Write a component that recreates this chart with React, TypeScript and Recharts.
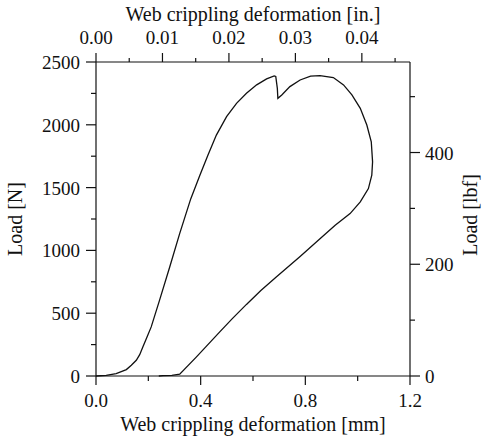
import { LineChart, Line, XAxis, YAxis } from "recharts";

// web crippling test: load vs deformation, loading + unloading path in order
const deformationMm = [
  0, 0.039, 0.077, 0.116, 0.135, 0.154, 0.167, 0.179, 0.195, 0.211, 0.243, 0.282,
  0.32, 0.362, 0.397, 0.428, 0.46, 0.499, 0.537, 0.575, 0.614, 0.652, 0.681,
  0.687, 0.693, 0.695, 0.71, 0.741, 0.78, 0.82, 0.856, 0.907, 0.946, 0.978,
  1.01, 1.035, 1.052, 1.057, 1.054, 1.041, 1.01, 0.971, 0.914, 0.856, 0.78,
  0.69, 0.63, 0.575, 0.52, 0.473, 0.384, 0.32, 0.29, 0.256, 0.24,
];
const loadN = [
  0, 5, 19, 51, 85, 125, 170, 231, 310, 391, 604, 870,
  1136, 1410, 1599, 1759, 1918, 2065, 2171, 2251, 2318, 2365, 2389,
  2385, 2290, 2211, 2238, 2304, 2357, 2388, 2392, 2376, 2318, 2238,
  2131, 1998, 1865, 1705, 1599, 1492, 1386, 1293, 1200, 1093, 952,
  790, 680, 570, 455, 351, 152, 14, 5, 3, 0,
];

const mmTicks = [0, 0.2, 0.4, 0.6, 0.8, 1.0, 1.2];
const mmLabels = [0, 0.4, 0.8, 1.2];
const loadTicks = [0, 250, 500, 750, 1000, 1250, 1500, 1750, 2000, 2250, 2500];
const loadLabels = [0, 500, 1000, 1500, 2000, 2500];
const inchTicks = [0, 0.005, 0.01, 0.015, 0.02, 0.025, 0.03, 0.035, 0.04, 0.045];
const inchLabels = [0, 0.01, 0.02, 0.03, 0.04];
const lbfTicks = [0, 100, 200, 300, 400, 500];
const lbfLabels = [0, 200, 400];

const MM_PER_IN = 25.4;
const N_PER_LBF = 4.44822;

const data = deformationMm.map((mm, i) => ({ mm, load: loadN[i] }));

const ink = "#111";
const font = { fontFamily: '"Liberation Serif", "Times New Roman", serif', fill: ink };
const has = (arr: number[], v: number) => arr.some((a) => Math.abs(a - v) < 1e-6);

const BottomTick = ({ x, y, payload }: any) => {
  const major = has(mmLabels, payload.value);
  return (
    <g>
      <line x1={x} y1={y} x2={x} y2={y + (major ? 9 : 5)} stroke={ink} strokeWidth={1.2} />
      {major && (
        <text x={x} y={y + 30.5} textAnchor="middle" fontSize={19} {...font}>
          {payload.value.toFixed(1)}
        </text>
      )}
    </g>
  );
};

const TopTick = ({ x, y, payload }: any) => {
  const inch = payload.value / MM_PER_IN;
  const major = has(inchLabels, inch);
  return (
    <g>
      <line x1={x} y1={y} x2={x} y2={y - (major ? 9 : 4)} stroke={ink} strokeWidth={1.2} />
      {major && (
        <text x={x} y={y - 18} textAnchor="middle" fontSize={19} {...font}>
          {inch.toFixed(2)}
        </text>
      )}
    </g>
  );
};

const LeftTick = ({ x, y, payload }: any) => {
  const major = has(loadLabels, payload.value);
  return (
    <g>
      <line x1={x} y1={y} x2={x - (major ? 10 : 5)} y2={y} stroke={ink} strokeWidth={1.2} />
      {major && (
        <text x={x - 16} y={y + 7} textAnchor="end" fontSize={19} {...font}>
          {payload.value}
        </text>
      )}
    </g>
  );
};

const RightTick = ({ x, y, payload }: any) => {
  const lbf = Math.round(payload.value / N_PER_LBF);
  const major = has(lbfLabels, lbf);
  return (
    <g>
      <line x1={x} y1={y} x2={x + (major ? 10 : 5)} y2={y} stroke={ink} strokeWidth={1.2} />
      {major && (
        <text x={x + 15} y={y + 7} textAnchor="start" fontSize={19} {...font}>
          {lbf}
        </text>
      )}
    </g>
  );
};

export default function App() {
  return (
    <div style={{ position: "absolute", left: 0, top: 0, background: "#fff" }}>
      <LineChart width={488} height={437} data={data} margin={{ top: 0, right: 0, bottom: 0, left: 0 }}>
        <XAxis
          xAxisId="bottom"
          dataKey="mm"
          type="number"
          domain={[0, 1.2]}
          ticks={mmTicks}
          interval={0}
          height={61}
          tickSize={0}
          tickMargin={0}
          tickLine={false}
          axisLine={{ stroke: ink, strokeWidth: 1.2 }}
          tick={<BottomTick />}
          label={{
            content: ({ viewBox }: any) => (
              <text x={viewBox.x + viewBox.width / 2} y={viewBox.y + 54.5} textAnchor="middle" fontSize={20} {...font}>
                Web crippling deformation [mm]
              </text>
            ),
          }}
        />
        <XAxis
          xAxisId="top"
          orientation="top"
          dataKey="mm"
          type="number"
          domain={[0, 1.2]}
          ticks={inchTicks.map((v) => v * MM_PER_IN)}
          interval={0}
          height={62}
          tickSize={0}
          tickMargin={0}
          tickLine={false}
          axisLine={{ stroke: ink, strokeWidth: 1.2 }}
          tick={<TopTick />}
          label={{
            content: ({ viewBox }: any) => (
              <text x={viewBox.x + viewBox.width / 2} y={viewBox.y + 20.5} textAnchor="middle" fontSize={20} {...font}>
                Web crippling deformation [in.]
              </text>
            ),
          }}
        />
        <YAxis
          yAxisId="left"
          type="number"
          domain={[0, 2500]}
          ticks={loadTicks}
          interval={0}
          width={96}
          tickSize={0}
          tickMargin={0}
          tickLine={false}
          axisLine={{ stroke: ink, strokeWidth: 1.2 }}
          tick={<LeftTick />}
          label={{
            content: ({ viewBox }: any) => {
              const cx = viewBox.x + 22;
              const cy = viewBox.y + viewBox.height / 2;
              return (
                <text x={cx} y={cy} transform={`rotate(-90, ${cx}, ${cy})`} textAnchor="middle" fontSize={20} {...font}>
                  Load [N]
                </text>
              );
            },
          }}
        />
        <YAxis
          yAxisId="right"
          orientation="right"
          type="number"
          domain={[0, 2500]}
          ticks={lbfTicks.map((v) => v * N_PER_LBF)}
          interval={0}
          width={78}
          tickSize={0}
          tickMargin={0}
          tickLine={false}
          axisLine={{ stroke: ink, strokeWidth: 1.2 }}
          tick={<RightTick />}
          label={{
            content: ({ viewBox }: any) => {
              const cx = viewBox.x + 67;
              const cy = viewBox.y + viewBox.height / 2 - 4;
              return (
                <text x={cx} y={cy} transform={`rotate(-90, ${cx}, ${cy})`} textAnchor="middle" fontSize={20} {...font}>
                  Load [lbf]
                </text>
              );
            },
          }}
        />
        <Line
          xAxisId="bottom"
          yAxisId="left"
          dataKey="load"
          type="linear"
          stroke={ink}
          strokeWidth={1.3}
          dot={false}
          activeDot={false}
          isAnimationActive={false}
        />
        <Line
          xAxisId="top"
          yAxisId="right"
          dataKey="load"
          type="linear"
          stroke="none"
          dot={false}
          activeDot={false}
          legendType="none"
          isAnimationActive={false}
        />
      </LineChart>
    </div>
  );
}
